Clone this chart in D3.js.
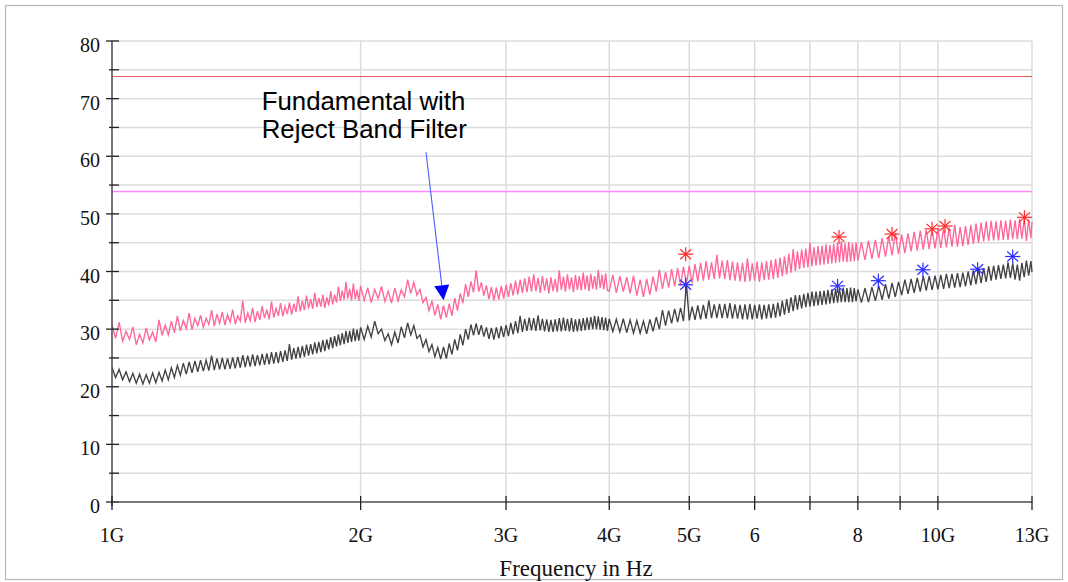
<!DOCTYPE html>
<html><head><meta charset="utf-8">
<script src="https://cdn.jsdelivr.net/npm/d3@7"></script>
<style>
html,body{margin:0;padding:0;background:#fff;}
svg{display:block;}
</style></head>
<body>
<svg id="chart" width="1068" height="582"></svg>
<script>
// ---- data ----
// receiver sweep sub-bands: start GHz, step GHz, number of points
const sweepBands = [[1.00, 0.01, 100], [2.00, 0.02, 100], [4.00, 0.04, 100], [8.00, 0.08, 63], [13.00, 0, 1]];

const pinkA = [30.8,28.4,31.2,27.9,29.6,28.2,30.4,27.3,29.1,27.6,30.2,28.1,29.5,27.8,31.6,28.9,30.7,29.0,31.4,29.4,
 32.3,29.7,31.5,30.1,32.8,29.9,31.9,30.6,32.4,30.3,31.9,30.8,33.3,30.5,32.6,31.0,33.0,30.7,32.5,31.2,
 33.4,30.9,32.3,31.4,34.9,31.1,32.8,31.5,33.7,31.2,33.1,31.6,34.0,31.9,33.4,31.7,34.8,32.0,33.6,32.3,
 34.5,32.2,33.9,32.6,34.6,32.5,34.4,33.0,35.7,33.1,34.9,33.3,35.8,33.6,35.2,33.5,36.3,33.8,35.4,33.9,
 36.0,33.7,35.5,34.1,36.6,34.3,36.0,34.6,37.4,34.9,36.7,35.1,38.2,35.3,37.0,35.0,37.9,35.2,36.8,34.9];
const pinkB = [37.5,35.0,37.2,34.6,36.9,35.3,37.4,34.8,36.6,34.5,37.1,34.9,36.8,35.6,38.6,36.2,38.1,35.9,36.9,34.6,
 35.5,33.2,34.9,32.4,34.3,31.7,34.1,32.0,34.4,32.3,35.4,33.2,36.2,34.5,37.8,35.6,38.3,36.4,40.2,36.5,
 38.1,35.8,37.6,35.2,37.3,35.0,37.2,35.1,37.5,35.3,37.7,35.6,38.0,35.8,38.4,36.0,38.6,36.3,38.8,36.4,
 39.1,36.5,39.5,36.6,38.9,36.3,39.2,36.7,38.8,36.2,39.0,36.6,38.7,36.4,40.2,36.8,39.1,36.5,39.5,36.9,
 39.0,36.4,39.4,36.8,39.2,36.7,39.8,36.9,39.3,36.6,39.6,37.0,39.2,36.8,40.3,37.1,39.4,36.9,39.7,36.7];
const pinkC = [36.6,39.4,36.3,39.2,36.5,39.0,36.2,39.3,35.8,38.6,35.6,38.7,36.0,39.1,36.5,40.3,37.0,39.9,37.2,40.4,
 37.4,40.6,37.6,40.8,37.9,41.0,38.0,41.3,38.3,41.5,38.4,41.8,38.6,41.6,38.7,42.9,38.8,41.9,38.7,42.0,
 38.5,41.7,38.4,41.6,38.3,41.5,38.2,42.3,38.3,41.4,38.4,41.7,38.2,41.6,38.5,41.8,38.6,42.0,38.7,42.2,
 38.9,42.4,39.2,42.6,39.5,43.1,39.8,43.9,40.1,43.5,40.4,43.8,40.6,44.0,40.7,45.0,40.9,44.2,41.0,44.4,
 41.1,44.5,41.2,44.7,41.3,44.6,41.4,44.8,41.5,45.0,41.6,45.3,41.7,44.9,41.6,45.1,41.7,44.9,41.8,45.0];
const pinkD = [41.9,45.1,42.0,45.3,42.2,45.5,42.3,45.8,42.6,46.0,42.8,46.7,43.0,46.4,43.2,46.6,43.5,46.9,43.6,47.1,
 43.8,47.2,43.9,47.3,44.0,47.4,44.1,47.5,44.2,47.6,44.3,48.1,44.3,47.7,44.4,47.9,44.6,48.1,44.8,48.3,
 45.0,48.5,45.2,48.7,45.3,48.8,45.4,48.7,45.4,48.9,45.5,48.8,45.5,49.0,45.6,48.9,45.6,49.1,45.7,49.2,
 45.3,49.0,45.8,48.6];

const grayA = [23.4,21.6,23.0,21.2,22.6,20.9,22.3,20.6,22.2,20.5,22.1,20.6,22.4,20.7,22.5,21.0,22.9,21.2,23.3,21.6,
 23.7,22.0,24.1,22.2,24.3,22.4,24.5,22.6,24.6,22.7,24.6,22.8,25.4,22.9,24.9,23.0,25.0,23.0,24.9,23.1,
 25.1,23.2,25.2,23.3,25.5,23.4,25.4,23.5,25.6,23.6,25.5,23.7,25.7,23.8,25.8,23.9,26.0,24.0,26.0,24.1,
 26.2,24.3,26.3,24.5,27.4,24.7,26.7,24.9,26.9,25.0,27.1,25.2,27.3,25.4,27.4,25.6,27.7,25.8,27.8,26.0,
 28.1,26.2,28.2,26.5,28.6,26.7,28.8,27.0,29.1,27.2,29.3,27.4,29.7,27.6,29.7,27.8,30.1,27.9,29.9,28.0];
const grayB = [30.3,28.2,30.5,28.6,31.4,29.2,30.0,28.0,29.2,27.3,29.5,27.6,30.4,28.5,31.1,29.0,30.6,28.4,29.0,26.9,
 28.2,26.1,27.3,25.2,26.8,24.8,26.9,24.9,27.5,25.6,28.2,26.3,29.1,27.2,30.0,28.2,30.8,28.9,31.0,29.0,
 30.7,28.7,30.3,28.3,30.2,28.2,30.3,28.4,30.5,28.6,30.7,28.8,31.1,29.1,31.4,29.3,32.3,29.5,31.8,29.7,
 32.0,29.8,31.9,29.7,32.4,29.8,31.8,29.6,31.7,29.5,31.6,29.5,31.7,29.6,31.9,29.6,32.0,29.7,31.8,29.6,
 31.9,29.5,31.7,29.6,31.8,29.7,31.9,29.8,32.0,29.9,32.1,30.0,32.3,30.0,32.2,29.9,32.1,29.8,32.0,29.7];
const grayC = [31.8,29.6,31.7,29.5,31.8,29.4,31.6,29.3,31.5,29.3,31.4,29.2,31.7,29.6,32.1,30.0,33.3,30.6,33.2,31.0,
 33.5,31.2,33.7,31.4,37.9,31.5,33.9,31.6,34.1,31.7,34.2,31.8,35.0,31.9,34.3,31.9,34.4,31.9,34.4,31.9,
 34.5,31.8,34.3,31.8,34.2,31.7,34.3,31.7,34.4,31.7,34.2,31.8,34.3,31.7,34.2,31.8,34.3,31.9,34.4,32.0,
 34.6,32.2,34.9,32.5,35.2,32.8,35.5,33.1,35.9,33.4,35.9,33.6,36.1,33.8,36.3,33.9,36.5,34.0,36.5,34.1,
 36.6,34.2,36.7,34.3,36.8,34.4,36.9,34.5,37.0,34.6,37.1,34.7,37.2,34.7,37.1,34.7,37.2,34.7,37.1,34.8];
const grayD = [36.9,34.6,37.1,34.7,37.3,34.9,37.5,35.1,37.8,35.3,38.0,35.6,38.2,35.9,38.6,36.1,38.7,36.3,38.9,36.5,
 39.2,36.7,39.2,36.8,39.3,36.9,39.4,37.0,39.6,37.1,39.6,37.2,39.7,37.3,39.8,37.4,40.0,37.6,40.2,37.8,
 40.5,38.0,40.6,38.2,40.9,38.4,41.0,38.6,41.1,38.7,41.2,38.8,41.6,38.9,41.4,38.6,41.2,38.4,41.5,39.0,
 41.9,39.3,41.8,39.9];

const redPeakFreq  = [4.95, 7.59, 8.80, 9.84, 10.20, 12.73];
const redPeakVal   = [43.0, 46.0, 46.5, 47.4, 47.9, 49.4];
const bluePeakFreq = [4.95, 7.56, 8.47, 9.59, 11.17, 12.32];
const bluePeakVal  = [37.7, 37.5, 38.4, 40.3, 40.4, 42.6];
const limitValues  = [74, 54];
const xTickValues  = [1, 2, 3, 4, 5, 6, 7, 8, 9, 10, 13];
const xTickLabels  = ["1G", "2G", "3G", "4G", "5G", "6", "", "8", "", "10G", "13G"];
const yMajorTicks  = [0, 10, 20, 30, 40, 50, 60, 70, 80];
const yMinorTicks  = [5, 15, 25, 35, 45, 55, 65, 75];
const annotationLines = ["Fundamental with", "Reject Band Filter"];
const annotationAt = {freq: 1.518, val: 68.1};
const arrowFrom = {freq: 2.40, val: 60.7};
const arrowTo   = {freq: 2.52, val: 35.0};
const xTitle = "Frequency in Hz";

// ---- assemble ----
const freqGHz = [];
sweepBands.forEach(([s, st, n]) => { for (let i = 0; i < n; i++) freqGHz.push(+(s + i * st).toFixed(3)); });
const pinkTrace = pinkA.concat(pinkB, pinkC, pinkD);
const grayTrace = grayA.concat(grayB, grayC, grayD);

// ---- drawing ----
const svg = d3.select("#chart");
const L = 112, R = 1032, T = 41, B = 502;
const x = d3.scaleLog().domain([1, 13]).range([L, R]);
const y = d3.scaleLinear().domain([0, 80]).range([B, T]);
const serif = "'Liberation Serif','Times New Roman',serif";
const crisp = v => Math.round(v) + 0.5;

svg.append("rect").attr("x", 5.5).attr("y", 5.5).attr("width", 1057).attr("height", 574)
  .attr("fill", "#fff").attr("stroke", "#b8b8b8").attr("stroke-width", 1.2);

// grid
const grid = svg.append("g");
grid.selectAll(".hg").data(yMajorTicks.concat(yMinorTicks)).join("line")
  .attr("x1", L).attr("x2", R).attr("y1", d => y(d)).attr("y2", d => y(d))
  .attr("stroke", "#dcdcdc").attr("stroke-width", 1.5);
grid.selectAll(".vg").data(xTickValues.slice(1)).join("line")
  .attr("x1", d => x(d)).attr("x2", d => x(d)).attr("y1", T).attr("y2", B)
  .attr("stroke", "#dcdcdc").attr("stroke-width", 1.5);

// limit lines
svg.selectAll(".lim").data(limitValues).join("line")
  .attr("x1", L).attr("x2", R).attr("y1", d => crisp(y(d))).attr("y2", d => crisp(y(d)))
  .attr("stroke", (d, i) => i === 0 ? "#e85a5a" : "#ff88ff")
  .attr("stroke-width", (d, i) => i === 0 ? 1 : 1.5);

// traces
const n = Math.min(freqGHz.length, pinkTrace.length, grayTrace.length);
const line = d3.line().x(d => x(d[0])).y(d => y(d[1]));
const pinkPts = freqGHz.slice(0, n).map((f, i) => [f, pinkTrace[i]]);
const grayPts = freqGHz.slice(0, n).map((f, i) => [f, grayTrace[i]]);
svg.append("path").datum(grayPts).attr("d", line)
  .attr("fill", "none").attr("stroke", "#424242").attr("stroke-width", 1.35);
svg.append("path").datum(pinkPts).attr("d", line)
  .attr("fill", "none").attr("stroke", "#ff6699").attr("stroke-width", 1.35);

// asterisk markers
function asterisks(fs, vs, color) {
  const g = svg.append("g");
  const pts = fs.map((f, i) => [x(f), y(vs[i])]);
  const arms = [[-7.5, 0, 7.5, 0], [0, -7, 0, 7], [-5.5, -5, 5.5, 5], [-5.5, 5, 5.5, -5]];
  pts.forEach(p => {
    arms.forEach(a => {
      g.append("line").attr("x1", p[0] + a[0]).attr("y1", p[1] + a[1])
        .attr("x2", p[0] + a[2]).attr("y2", p[1] + a[3])
        .attr("stroke", color).attr("stroke-width", 1.2);
    });
  });
}
asterisks(redPeakFreq, redPeakVal, "#ff2a2a");
asterisks(bluePeakFreq, bluePeakVal, "#2a2aff");

// y axis
const ya = svg.append("g");
ya.append("line").attr("x1", L).attr("x2", L).attr("y1", T).attr("y2", B + 4)
  .attr("stroke", "#555").attr("stroke-width", 1.6);
ya.selectAll(".ymaj").data(yMajorTicks).join("line")
  .attr("x1", L - 6).attr("x2", L + 7).attr("y1", d => y(d)).attr("y2", d => y(d))
  .attr("stroke", "#222").attr("stroke-width", 1.3);
ya.selectAll(".ymin").data(yMinorTicks).join("line")
  .attr("x1", L - 3).attr("x2", L + 7).attr("y1", d => y(d)).attr("y2", d => y(d))
  .attr("stroke", "#222").attr("stroke-width", 1.3);
ya.selectAll(".ylab").data(yMajorTicks).join("text")
  .attr("x", L - 12).attr("y", d => y(d) + 11).attr("text-anchor", "end")
  .attr("font-family", serif).attr("font-size", 20).attr("fill", "#111").text(d => d);

// x axis
const xa = svg.append("g");
xa.append("line").attr("x1", L).attr("x2", R).attr("y1", B).attr("y2", B)
  .attr("stroke", "#555").attr("stroke-width", 1.6);
xa.selectAll(".xt").data(xTickValues).join("line")
  .attr("x1", d => x(d)).attr("x2", d => x(d)).attr("y1", B - 6).attr("y2", B + 8)
  .attr("stroke", "#222").attr("stroke-width", 1.3);
xa.selectAll(".xl").data(xTickValues).join("text")
  .attr("x", d => x(d)).attr("y", 542).attr("text-anchor", "middle")
  .attr("font-family", serif).attr("font-size", 20).attr("fill", "#111")
  .text((d, i) => xTickLabels[i]);
svg.append("text").attr("x", 576).attr("y", 576).attr("text-anchor", "middle")
  .attr("font-family", serif).attr("font-size", 23).attr("fill", "#111").text(xTitle);

// annotation
const ann = svg.append("g");
ann.selectAll("text").data(annotationLines).join("text")
  .attr("x", x(annotationAt.freq)).attr("y", (d, i) => y(annotationAt.val) + i * 28)
  .attr("font-family", "'Liberation Sans',Arial,sans-serif").attr("font-size", 25.8).attr("fill", "#000")
  .text(d => d);
const ax0 = x(arrowFrom.freq), ay0 = y(arrowFrom.val), ax1 = x(arrowTo.freq), ay1 = y(arrowTo.val);
const ang = Math.atan2(ay1 - ay0, ax1 - ax0);
const hl = 15, hw = 7.5;
const bx = ax1 - hl * Math.cos(ang), by = ay1 - hl * Math.sin(ang);
ann.append("line").attr("x1", ax0).attr("y1", ay0).attr("x2", bx).attr("y2", by)
  .attr("stroke", "#4a5cff").attr("stroke-width", 1.1);
ann.append("path")
  .attr("d", `M${ax1},${ay1}L${bx - hw * Math.sin(ang)},${by + hw * Math.cos(ang)}L${bx + hw * Math.sin(ang)},${by - hw * Math.cos(ang)}Z`)
  .attr("fill", "#0000ff");
</script>
</body></html>
